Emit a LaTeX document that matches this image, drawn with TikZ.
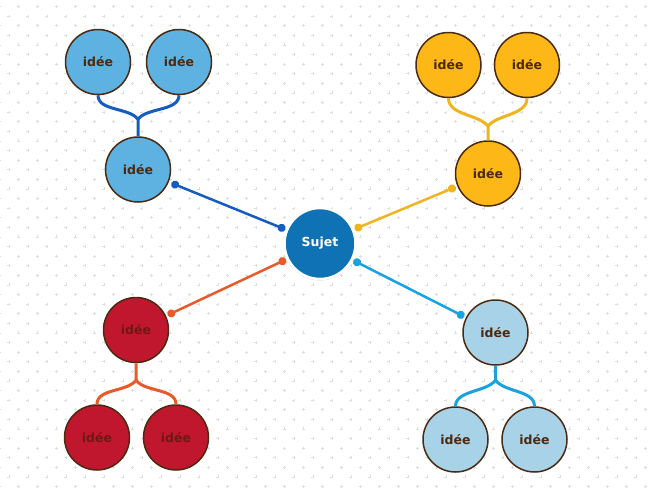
\documentclass[tikz,border=0pt]{standalone}
\usepackage{fontspec}
\setmainfont{DejaVu Sans}
\usetikzlibrary{arrows.meta,calc,shadows}
\definecolor{bluef}{RGB}{93,178,226}
\definecolor{bluel}{RGB}{22,92,192}
\definecolor{sujetf}{RGB}{14,114,180}
\definecolor{orangef}{RGB}{253,183,22}
\definecolor{orangel}{RGB}{240,180,30}
\definecolor{redf}{RGB}{192,22,46}
\definecolor{redl}{RGB}{232,90,42}
\definecolor{lbf}{RGB}{168,210,232}
\definecolor{lbl}{RGB}{26,162,222}
\definecolor{bordc}{RGB}{74,42,16}
\definecolor{textc}{RGB}{74,42,16}
\definecolor{redtext}{RGB}{115,22,20}
\definecolor{gridc}{RGB}{222,222,222}
\begin{document}
\begin{tikzpicture}[x=1pt,y=-1pt,
  idea/.style={circle,draw=bordc,line width=1.5pt,minimum size=65pt,inner sep=0pt,
    font=\fontsize{12.5}{14}\selectfont\bfseries,text=textc},
  sujet/.style={circle,fill=sujetf,draw=white,line width=2.5pt,minimum size=71pt,inner sep=0pt,
    font=\fontsize{12.5}{14}\selectfont\bfseries,text=white,
    drop shadow={opacity=0.3,shadow xshift=0pt,shadow yshift=-0.8pt,shadow scale=1.02}},
  tree/.style={line width=3pt},
  mainc/.style={line width=2.5pt,{Circle[length=8pt]}-{Circle[length=8pt]}},
  gridmark/.style={draw=gridc,line width=0.6pt}]
\useasboundingbox (0,0) rectangle (650,493);
\fill[white] (0,0) rectangle (650,493);
% background dotted pattern
\foreach \r in {0,...,25}{
  \foreach \c in {0,...,34}{
    \draw[gridmark] ({-0.7+19*\c},{6.4+19.2*\r}) +(-1.5,0) -- +(1.5,0) +(0,-1.5) -- +(0,1.5);
    \draw[gridmark] ({8.8+19*\c},{16+19.2*\r}) +(-1.5,0) -- +(1.5,0) +(0,-1.5) -- +(0,1.5);
  }
}
% nodes
\node[sujet] (s) at (320,243.5) {Sujet};
\node[idea,fill=bluef] (b1) at (98,62) {idée};
\node[idea,fill=bluef] (b2) at (179,62) {idée};
\node[idea,fill=bluef] (b0) at (138,169.5) {idée};
\node[idea,fill=orangef] (o1) at (448.5,65) {idée};
\node[idea,fill=orangef] (o2) at (527,65) {idée};
\node[idea,fill=orangef] (o0) at (488,173.5) {idée};
\node[idea,fill=redf,text=redtext] (r0) at (136,330) {idée};
\node[idea,fill=redf,text=redtext] (r1) at (97,437.5) {idée};
\node[idea,fill=redf,text=redtext] (r2) at (176,437.5) {idée};
\node[idea,fill=lbf] (l0) at (495.5,332.5) {idée};
\node[idea,fill=lbf] (l1) at (455.5,439.5) {idée};
\node[idea,fill=lbf] (l2) at (534.5,439.5) {idée};
% junctions
\coordinate (jb) at ($(b0.north)+(0,-17)$);
\coordinate (jo) at ($(o0.north)+(0,-14)$);
\coordinate (jr) at ($(r0.south)+(0,17)$);
\coordinate (jl) at ($(l0.south)+(0,14.5)$);
% tree connectors
\draw[tree,bluel] (b1.south) .. controls +(0,16) and +(-9,-12) .. (jb) -- (b0.north);
\draw[tree,bluel] (b2.south) .. controls +(0,16) and +(9,-12) .. (jb);
\draw[tree,orangel] (o1.south) .. controls +(0,17) and +(-9,-12) .. (jo) -- (o0.north);
\draw[tree,orangel] (o2.south) .. controls +(0,17) and +(9,-12) .. (jo);
\draw[tree,redl] (r1.north) .. controls +(0,-16) and +(-9,12) .. (jr) -- (r0.south);
\draw[tree,redl] (r2.north) .. controls +(0,-16) and +(9,12) .. (jr);
\draw[tree,lbl] (l1.north) .. controls +(0,-16) and +(-9,12) .. (jl) -- (l0.south);
\draw[tree,lbl] (l2.north) .. controls +(0,-16) and +(9,12) .. (jl);
% main connectors
\draw[mainc,bluel] ($(b0)!36pt!(s)$) -- ($(s)!37.5pt!(b0)$);
\draw[mainc,orangel] ($(o0)!35pt!(s)$) -- ($(s)!37.5pt!(o0)$);
\draw[mainc,redl] ($(r0)!35pt!(s)$) -- ($(s)!37.5pt!(r0)$);
\draw[mainc,lbl] ($(l0)!35pt!(s)$) -- ($(s)!37.5pt!(l0)$);
\end{tikzpicture}
\end{document}
